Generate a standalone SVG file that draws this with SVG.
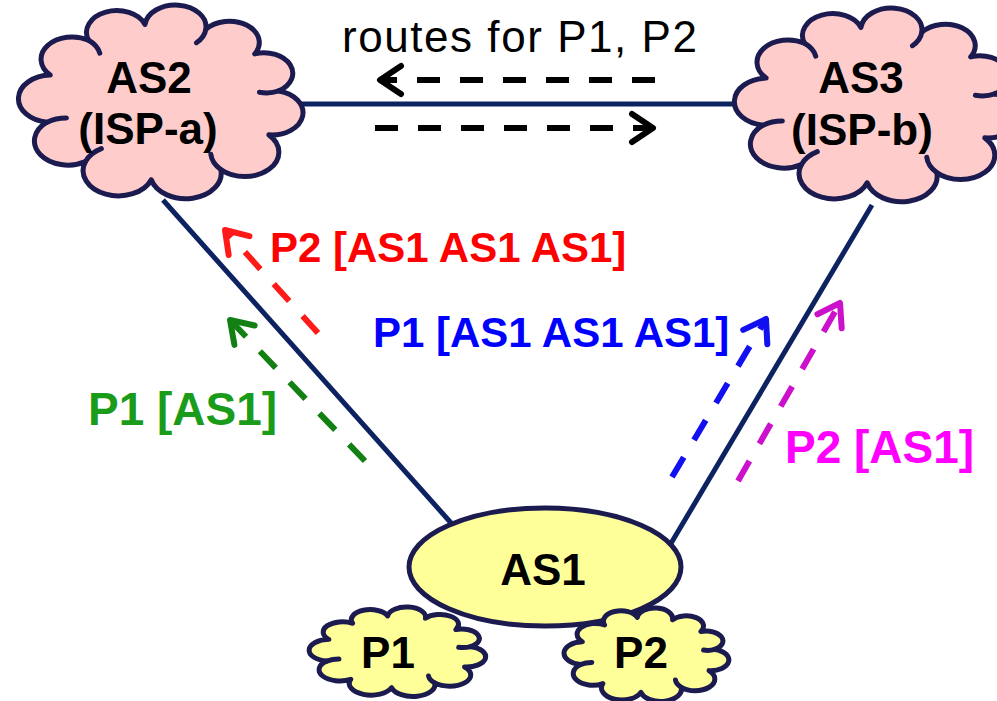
<svg xmlns="http://www.w3.org/2000/svg" width="997" height="701" viewBox="0 0 997 701">
<style>
.link{stroke:#0d2260;stroke-width:5;fill:none}
.cloud{stroke:#1b1b50;stroke-width:5;vector-effect:non-scaling-stroke;stroke-linejoin:round}
.hook{stroke:#1b1b50;stroke-width:5;fill:none;vector-effect:non-scaling-stroke;stroke-linecap:round}
.isp{fill:#ffcccc}
.pre{fill:#ffff99}
.lbl{font-family:"Liberation Sans",Arial,sans-serif;font-weight:bold;font-size:44px;fill:#000;text-anchor:middle}
.rt{font-family:"Liberation Sans",Arial,sans-serif;font-weight:bold;font-size:42px}
.ar{fill:none;stroke-width:6;stroke-dasharray:23 20}
</style>
<defs>
<marker id="mk" markerUnits="userSpaceOnUse" markerWidth="40" markerHeight="40" refX="22" refY="15" orient="auto" overflow="visible"><path d="M1,1 L22,15 L1,29" fill="none" stroke="#000" stroke-width="6" stroke-linecap="round" stroke-linejoin="round"/></marker>
<marker id="mr" markerUnits="userSpaceOnUse" markerWidth="40" markerHeight="40" refX="22" refY="15" orient="auto" overflow="visible"><path d="M1,1 L22,15 L1,29" fill="none" stroke="#ff1a1a" stroke-width="6" stroke-linecap="round" stroke-linejoin="round"/></marker>
<marker id="mg" markerUnits="userSpaceOnUse" markerWidth="40" markerHeight="40" refX="22" refY="15" orient="auto" overflow="visible"><path d="M1,1 L22,15 L1,29" fill="none" stroke="#128012" stroke-width="6" stroke-linecap="round" stroke-linejoin="round"/></marker>
<marker id="mb" markerUnits="userSpaceOnUse" markerWidth="40" markerHeight="40" refX="22" refY="15" orient="auto" overflow="visible"><path d="M1,1 L22,15 L1,29" fill="none" stroke="#1010f0" stroke-width="6" stroke-linecap="round" stroke-linejoin="round"/></marker>
<marker id="mm" markerUnits="userSpaceOnUse" markerWidth="40" markerHeight="40" refX="22" refY="15" orient="auto" overflow="visible"><path d="M1,1 L22,15 L1,29" fill="none" stroke="#cc11cc" stroke-width="6" stroke-linecap="round" stroke-linejoin="round"/></marker>
</defs>
<g id="connectors">
<line class="link" x1="300" y1="104" x2="738" y2="104"/>
<line class="link" x1="163" y1="200" x2="452" y2="524"/>
<line class="link" x1="872" y1="205" x2="670" y2="545"/>
</g>
<g id="AS2">
<g transform="translate(5.65,-9.7) scale(3.118,2.231)">
<path class="cloud isp" d="M13.3,59.1 A10.6,10.6 0 0 1 14.3,38 A10,10 0 0 1 26.6,22.4 A9.7,9.7 0 0 1 44.7,15.3 A9.8,9.8 0 0 1 64.2,17.5 A9.6,9.6 0 0 1 79.9,28.5 A9.2,9.2 0 0 1 87.6,45.1 A10,10 0 0 1 84.4,64.8 A10.9,10.9 0 0 1 69,80.3 A11.4,11.4 0 0 1 46.7,84.9 A11.3,11.3 0 0 1 25.6,76.8 A10.8,10.8 0 0 1 13.3,59.1 Z"/>
<path class="hook" d="M26.6,22.4 A10,10 0 0 1 30.2,28.2 M64.2,17.5 A9.8,9.8 0 0 1 61.2,23.5 M87.6,45.1 A9.2,9.2 0 0 1 81.4,45.7 M69,80.3 A10.9,10.9 0 0 1 65.8,73.5 M25.6,76.8 A11.3,11.3 0 0 1 30.7,71 M13.3,59.1 A10.8,10.8 0 0 1 19.5,57.2"/>
</g>
<text class="lbl" x="149" y="93">AS2</text>
<text class="lbl" x="148" y="144">(ISP-a)</text>
</g>
<g id="AS3">
<g transform="translate(721.6,-6.7) scale(3.118,2.231)">
<path class="cloud isp" d="M13.3,59.1 A10.6,10.6 0 0 1 14.3,38 A10,10 0 0 1 26.6,22.4 A9.7,9.7 0 0 1 44.7,15.3 A9.8,9.8 0 0 1 64.2,17.5 A9.6,9.6 0 0 1 79.9,28.5 A9.2,9.2 0 0 1 87.6,45.1 A10,10 0 0 1 84.4,64.8 A10.9,10.9 0 0 1 69,80.3 A11.4,11.4 0 0 1 46.7,84.9 A11.3,11.3 0 0 1 25.6,76.8 A10.8,10.8 0 0 1 13.3,59.1 Z"/>
<path class="hook" d="M26.6,22.4 A10,10 0 0 1 30.2,28.2 M64.2,17.5 A9.8,9.8 0 0 1 61.2,23.5 M87.6,45.1 A9.2,9.2 0 0 1 81.4,45.7 M69,80.3 A10.9,10.9 0 0 1 65.8,73.5 M25.6,76.8 A11.3,11.3 0 0 1 30.7,71 M13.3,59.1 A10.8,10.8 0 0 1 19.5,57.2"/>
</g>
<text class="lbl" x="861" y="93">AS3</text>
<text class="lbl" x="862" y="145">(ISP-b)</text>
</g>
<g id="AS1">
<ellipse cx="545" cy="567" rx="136" ry="59" fill="#ffff99" stroke="#1b1b50" stroke-width="5"/>
<text class="lbl" x="543" y="585">AS1</text>
</g>
<g id="P1">
<g transform="translate(301.2,600.2) scale(1.935,1.03)">
<path class="cloud pre" d="M13.3,59.1 A10.6,10.6 0 0 1 14.3,38 A10,10 0 0 1 26.6,22.4 A9.7,9.7 0 0 1 44.7,15.3 A9.8,9.8 0 0 1 64.2,17.5 A9.6,9.6 0 0 1 79.9,28.5 A9.2,9.2 0 0 1 87.6,45.1 A10,10 0 0 1 84.4,64.8 A10.9,10.9 0 0 1 69,80.3 A11.4,11.4 0 0 1 46.7,84.9 A11.3,11.3 0 0 1 25.6,76.8 A10.8,10.8 0 0 1 13.3,59.1 Z"/>
<path class="hook" d="M87.6,45.1 A9.2,9.2 0 0 1 81.4,45.7 M69,80.3 A10.9,10.9 0 0 1 65.8,73.5 M13.3,59.1 A10.8,10.8 0 0 1 19.5,57.2"/>
</g>
<text class="lbl" x="388" y="668">P1</text>
</g>
<g id="P2">
<g transform="translate(556.6,600.9) scale(1.806,1.076)">
<path class="cloud pre" d="M13.3,59.1 A10.6,10.6 0 0 1 14.3,38 A10,10 0 0 1 26.6,22.4 A9.7,9.7 0 0 1 44.7,15.3 A9.8,9.8 0 0 1 64.2,17.5 A9.6,9.6 0 0 1 79.9,28.5 A9.2,9.2 0 0 1 87.6,45.1 A10,10 0 0 1 84.4,64.8 A10.9,10.9 0 0 1 69,80.3 A11.4,11.4 0 0 1 46.7,84.9 A11.3,11.3 0 0 1 25.6,76.8 A10.8,10.8 0 0 1 13.3,59.1 Z"/>
<path class="hook" d="M87.6,45.1 A9.2,9.2 0 0 1 81.4,45.7 M69,80.3 A10.9,10.9 0 0 1 65.8,73.5 M13.3,59.1 A10.8,10.8 0 0 1 19.5,57.2"/>
</g>
<text class="lbl" x="641" y="668">P2</text>
</g>
<g id="announcements">
<line class="ar" x1="655" y1="80" x2="380" y2="80" stroke="#000" marker-end="url(#mk)"/>
<line class="ar" x1="375" y1="128" x2="653" y2="128" stroke="#000" marker-end="url(#mk)"/>
<line class="ar" x1="318" y1="333" x2="225" y2="230" stroke="#ff1a1a" marker-end="url(#mr)"/>
<line class="ar" x1="365" y1="461" x2="230" y2="320" stroke="#128012" marker-end="url(#mg)"/>
<line class="ar" x1="672" y1="477" x2="766" y2="319" stroke="#1010f0" marker-end="url(#mb)"/>
<line class="ar" x1="738" y1="481" x2="840" y2="303" stroke="#cc11cc" marker-end="url(#mm)"/>
</g>
<g id="labels">
<text x="342" y="52" font-family="Liberation Sans, Arial, sans-serif" font-size="44" textLength="355" lengthAdjust="spacing">routes for P1, P2</text>
<text class="rt" x="270" y="262" fill="#ff0000">P2 [AS1 AS1 AS1]</text>
<text class="rt" x="373" y="347" fill="#0000ff">P1 [AS1 AS1 AS1]</text>
<text class="rt" x="88" y="425" fill="#1a9c1a" style="font-size:46px">P1 [AS1]</text>
<text class="rt" x="785" y="463" fill="#ff00ff" style="font-size:46px">P2 [AS1]</text>
</g>
</svg>
